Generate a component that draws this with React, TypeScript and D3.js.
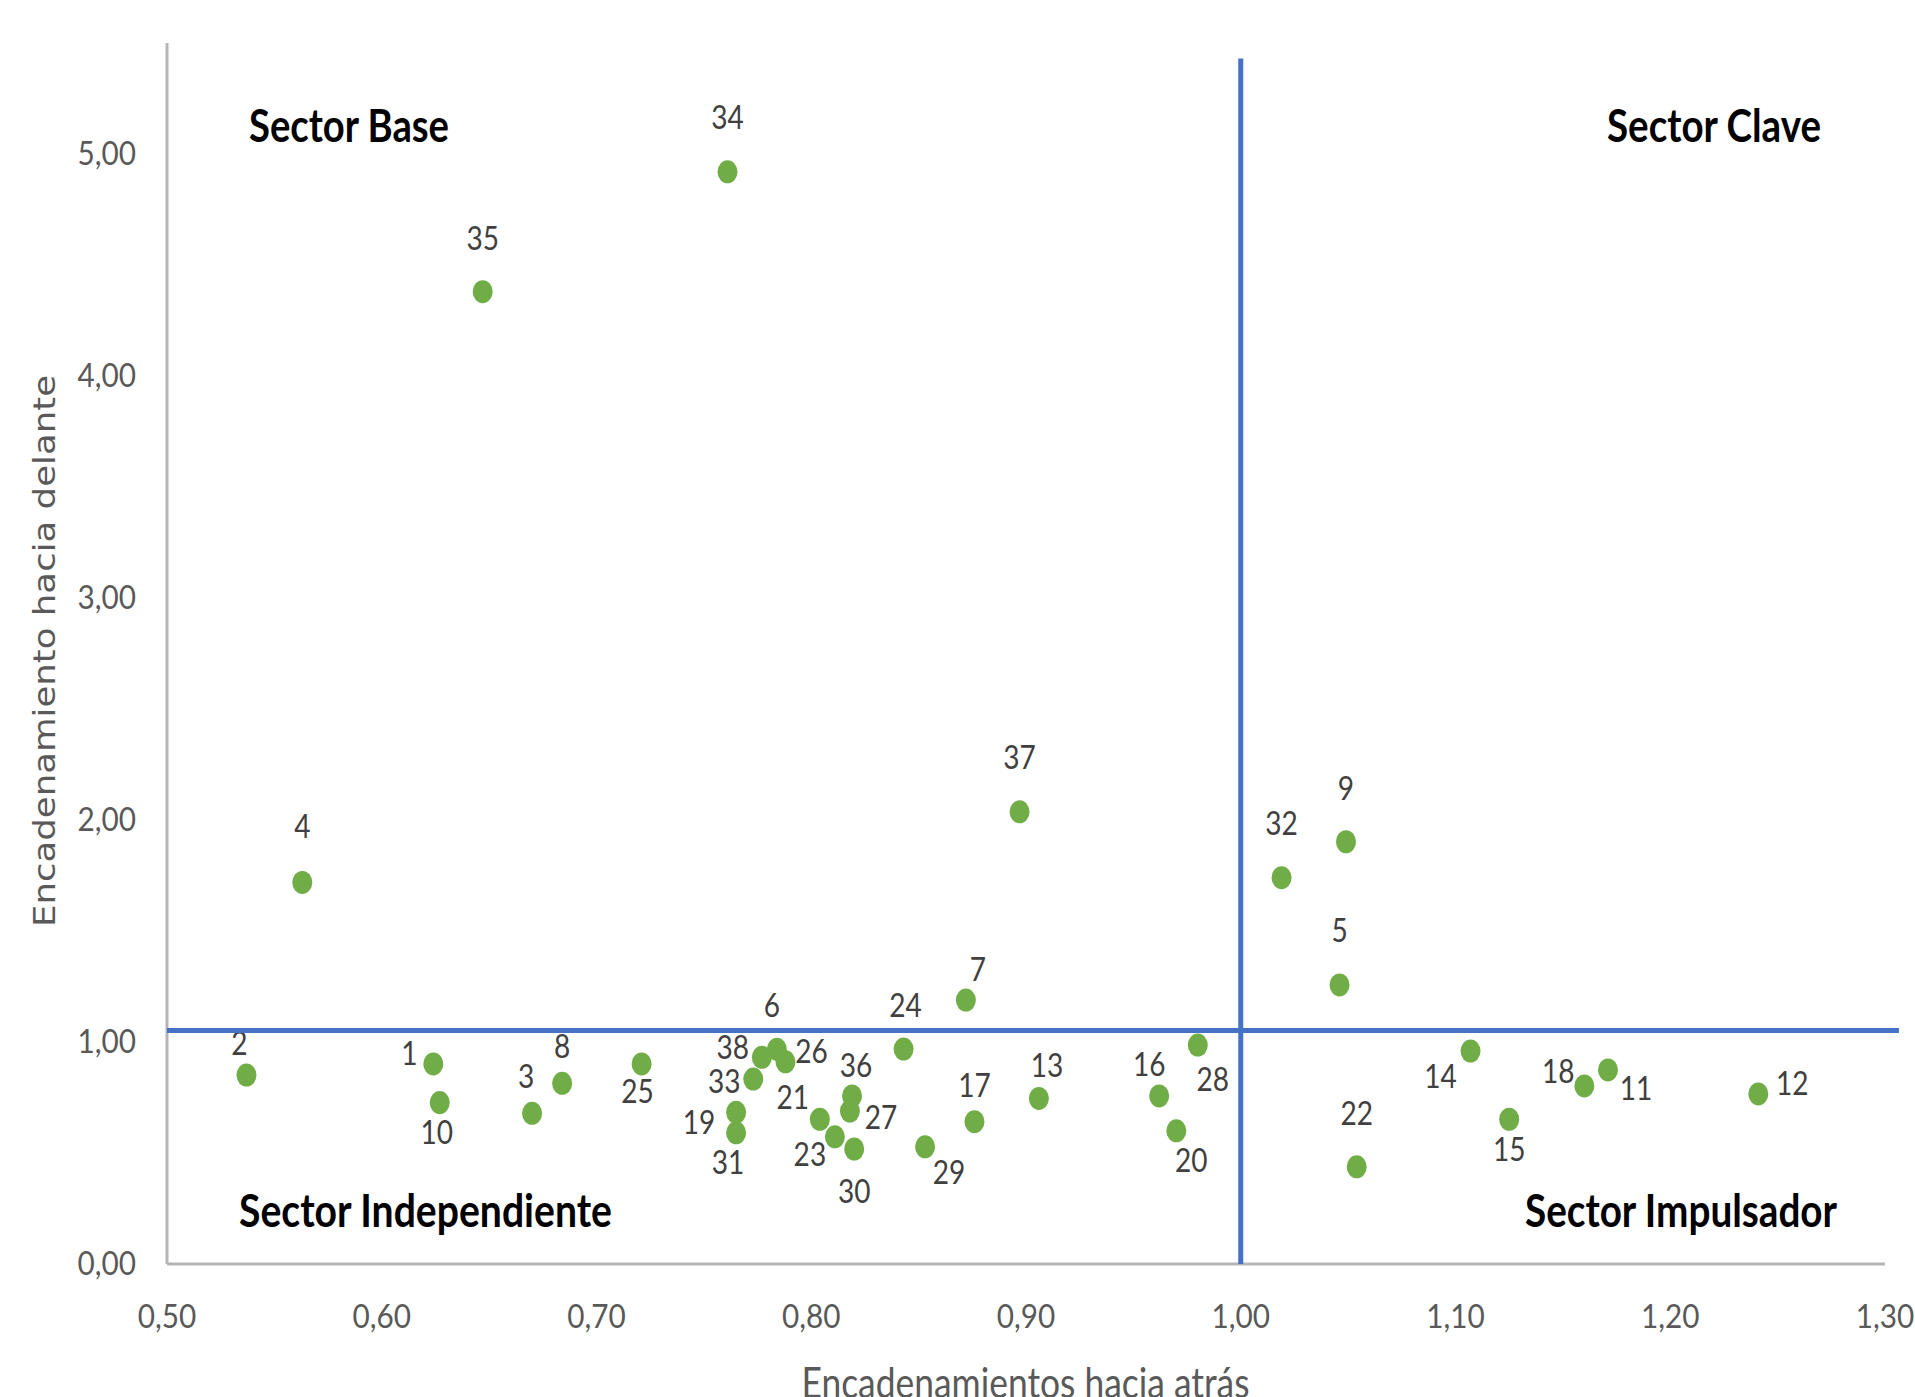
import React from 'react';
import * as d3 from 'd3';

// Sector numbers and their linkage indices
const sectors = [
  1, 2, 3, 4, 5, 6, 7, 8, 9, 10, 11, 12, 13, 14, 15, 16, 17, 18, 19,
  20, 21, 22, 23, 24, 25, 26, 27, 28, 29, 30, 31, 32, 33, 34, 35, 36, 37, 38,
];
// Encadenamientos hacia atrás (x)
const backward = [
  0.624, 0.537, 0.670, 0.563, 1.046, 0.784, 0.872, 0.684, 1.049, 0.627,
  1.171, 1.241, 0.906, 1.107, 1.125, 0.962, 0.876, 1.160, 0.765, 0.970,
  0.804, 1.054, 0.811, 0.843, 0.721, 0.788, 0.818, 0.980, 0.853, 0.820,
  0.765, 1.019, 0.773, 0.761, 0.647, 0.819, 0.897, 0.777,
];
// Encadenamiento hacia delante (y)
const forward = [
  0.901, 0.851, 0.679, 1.719, 1.257, 0.967, 1.189, 0.814, 1.902, 0.727,
  0.874, 0.766, 0.746, 0.959, 0.652, 0.757, 0.641, 0.802, 0.683, 0.600,
  0.652, 0.438, 0.573, 0.968, 0.901, 0.911, 0.689, 0.986, 0.528, 0.518,
  0.591, 1.740, 0.833, 4.920, 4.380, 0.757, 2.037, 0.931,
];

const xTicks = [0.5, 0.6, 0.7, 0.8, 0.9, 1.0, 1.1, 1.2, 1.3];
const yTicks = [0, 1, 2, 3, 4, 5];

// quadrant dividers
const xCut = 1.0;
const yCut = 1.052;

const xTitle = 'Encadenamientos hacia atrás';
const yTitle = 'Encadenamiento hacia delante';

// label placement (px from the point centre to the label baseline)
const labelOffset: Record<number, [number, number]> = {
  1: [-24, 1], 2: [-7, -20], 3: [-6, -25], 4: [0, -44], 5: [0, -43],
  6: [-5, -32], 7: [12, -19], 8: [0, -25], 9: [0, -42], 10: [-3, 41],
  11: [28, 30], 12: [34, 1], 13: [8, -21], 14: [-30, 37], 15: [0, 42],
  16: [-10, -20], 17: [0, -25], 18: [-26, -3], 19: [-37, 22], 20: [15, 41],
  21: [-27, -10], 22: [0, -42], 23: [-25, 29], 24: [2, -32], 25: [-4, 39],
  26: [26, 1], 27: [31, 18], 28: [15, 46], 29: [24, 37], 30: [0, 54],
  31: [-8, 41], 32: [0, -43], 33: [-29, 14], 34: [0, -43], 35: [0, -42],
  36: [4, -19], 37: [0, -43], 38: [-29, 2],
};

const quadrantLabels = [
  { text: 'Sector Base', x: 249, y: 142, w: 200 },
  { text: 'Sector Clave', x: 1607, y: 142, w: 214 },
  { text: 'Sector Independiente', x: 239, y: 1227, w: 373 },
  { text: 'Sector Impulsador', x: 1525, y: 1227, w: 312 },
];

const W = 1915;
const H = 1397;
const FONT = 'Lato, "Open Sans", sans-serif';

const es = d3.formatLocale({ decimal: ',', thousands: '.', grouping: [3], currency: ['', '€'] });
const fmt = es.format('.2f');

const App: React.FC = () => {
  const x = d3.scaleLinear().domain([0.5, 1.3]).range([167, 1885]);
  const y = d3.scaleLinear().domain([0, 5.5]).range([1264, 43]);

  const points = sectors.map((s, i) => ({ id: s, bx: backward[i], fy: forward[i] }));

  return (
    <>
      <style>{'body{margin:0}'}</style>
      <svg width={W} height={H} style={{ display: 'block', background: '#fff' }}>
        {/* axes */}
        <line x1={x(0.5)} x2={x(0.5)} y1={y(0)} y2={y(5.5)} stroke="#b5b5b5" strokeWidth={3} />
        <line x1={x(0.5)} x2={x(1.3)} y1={y(0)} y2={y(0)} stroke="#b5b5b5" strokeWidth={3} />

        {/* y tick labels */}
        {yTicks.map((t) => (
          <text
            key={'y' + t}
            transform={`translate(136,${y(t) + 11}) scale(0.93,1)`}
            textAnchor="end"
            fontFamily={FONT}
            fontSize={32}
            fill="#595959"
          >
            {fmt(t)}
          </text>
        ))}
        {/* x tick labels */}
        {xTicks.map((t) => (
          <text
            key={'x' + t}
            transform={`translate(${x(t)},1328) scale(0.93,1)`}
            textAnchor="middle"
            fontFamily={FONT}
            fontSize={32}
            fill="#595959"
          >
            {fmt(t)}
          </text>
        ))}

        {/* axis titles */}
        <text
          x={W / 2 + 68}
          y={1398}
          textAnchor="middle"
          fontFamily={FONT}
          fontSize={42}
          fill="#595959"
          textLength={448}
          lengthAdjust="spacingAndGlyphs"
        >
          {xTitle}
        </text>
        <text
          transform="translate(55,651) rotate(-90)"
          textAnchor="middle"
          fontFamily='"DejaVu Sans", Verdana, sans-serif'
          fontSize={31}
          fill="#595959"
          textLength={552}
          lengthAdjust="spacingAndGlyphs"
        >
          {yTitle}
        </text>

        {/* point labels */}
        {points.map((p) => {
          const [dx, dy] = labelOffset[p.id] || [0, -40];
          return (
            <text
              key={'l' + p.id}
              transform={`translate(${x(p.bx) + dx},${y(p.fy) + dy}) scale(0.85,1)`}
              textAnchor="middle"
              fontFamily={FONT}
              fontSize={33}
              fill="#404040"
            >
              {p.id}
            </text>
          );
        })}

        {/* quadrant dividers */}
        <line x1={x(0.5)} x2={x(1.3065)} y1={y(yCut)} y2={y(yCut)} stroke="#4472C4" strokeWidth={5} />
        <line x1={x(xCut)} x2={x(xCut)} y1={y(0)} y2={y(5.43)} stroke="#4472C4" strokeWidth={5} />

        {/* points */}
        {points.map((p) => (
          <ellipse key={'p' + p.id} cx={x(p.bx)} cy={y(p.fy)} rx={10} ry={11.5} fill="#70AD47" />
        ))}

        {/* quadrant names */}
        {quadrantLabels.map((q) => (
          <text
            key={q.text}
            x={q.x}
            y={q.y}
            fontFamily={FONT}
            fontWeight="bold"
            fontSize={45}
            fill="#000"
            textLength={q.w}
            lengthAdjust="spacingAndGlyphs"
          >
            {q.text}
          </text>
        ))}
      </svg>
    </>
  );
};

export default App;
